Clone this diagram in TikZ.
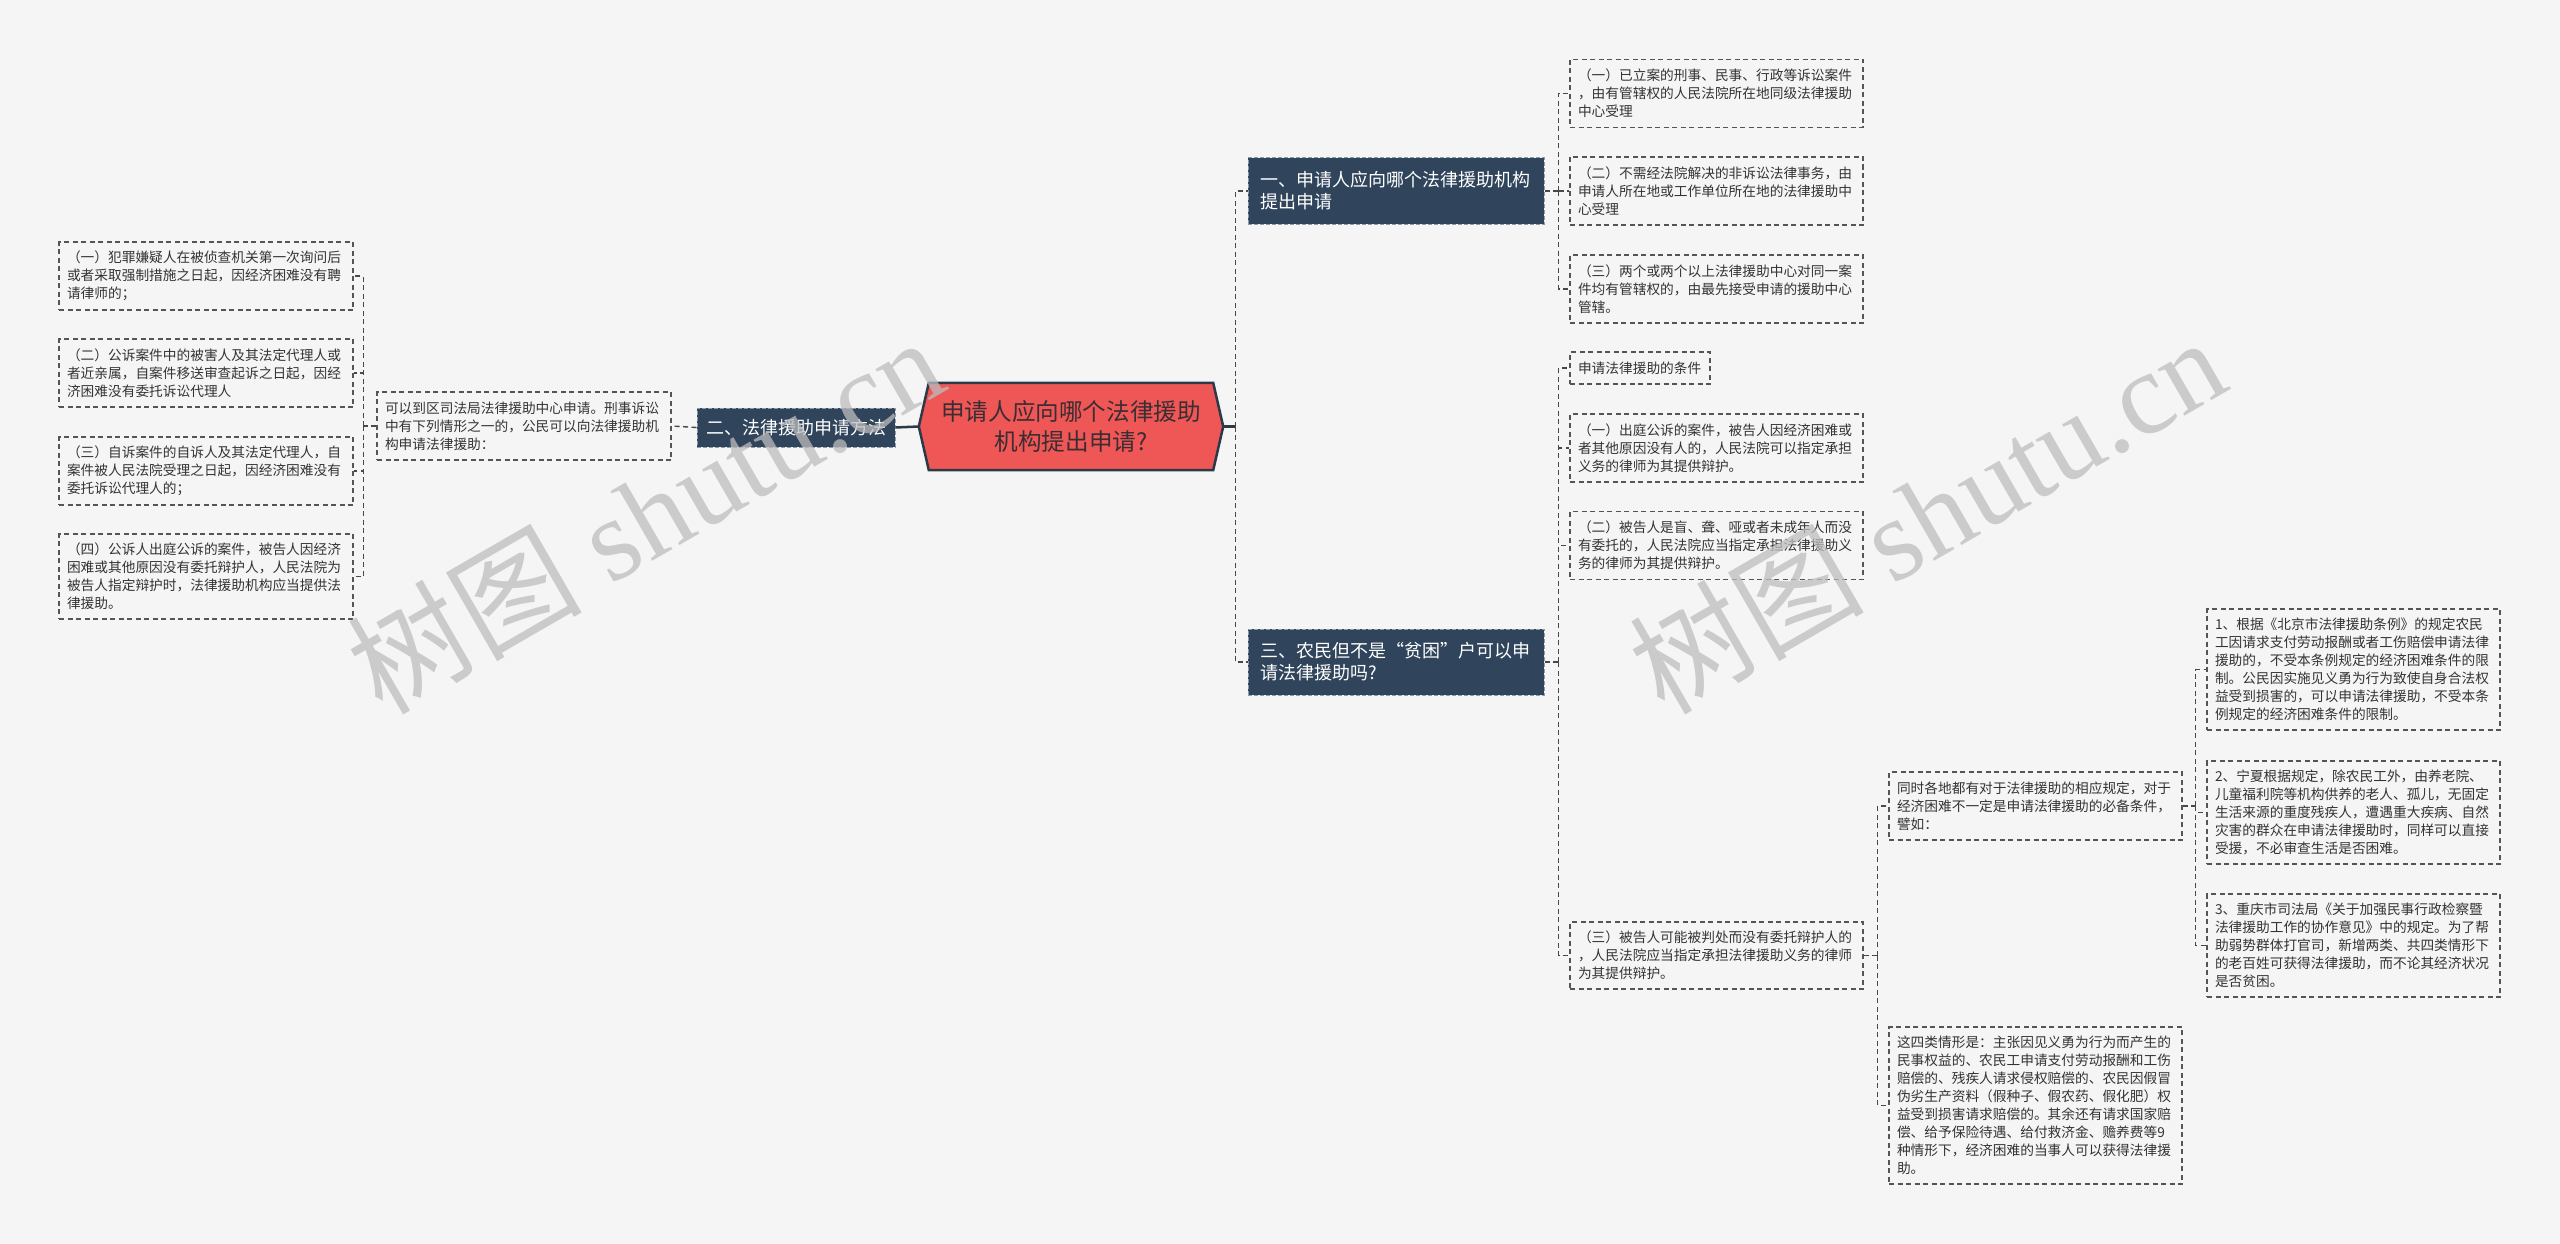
\documentclass[tikz,border=0pt]{standalone}
\usepackage{fontspec}
\setmainfont{Noto Sans CJK SC}
\newfontfamily\cjkfont{Noto Sans CJK SC}
\newfontfamily\wmfont{Liberation Serif}
\usetikzlibrary{backgrounds}
\definecolor{bg}{HTML}{F5F5F5}
\definecolor{navy}{HTML}{30455C}
\definecolor{navyline}{HTML}{8C9BAB}
\definecolor{redfill}{HTML}{EF5656}
\definecolor{darkline}{HTML}{2C3A48}
\definecolor{boxline}{HTML}{555555}
\definecolor{connline}{HTML}{484848}
\definecolor{txt}{HTML}{333333}
\definecolor{ctrtxt}{HTML}{3A2E33}
\definecolor{wm}{HTML}{BDBDBD}
\begin{document}
\begin{tikzpicture}[x=1pt,y=-1pt,
  leaf/.style={draw=boxline, dash pattern=on 5pt off 3.5pt, line width=1.3pt,
    text=txt, align=left, inner xsep=8pt, inner ysep=0pt,
    font=\fontsize{13.7}{18}\selectfont, text width=277pt, minimum height=#1},
  leaf/.default=68pt,
  lvone/.style={fill=navy, draw=navyline, dash pattern=on 4pt off 2pt, line width=1pt,
    text=white, align=left, inner xsep=12pt, inner ysep=0pt,
    font=\fontsize{18}{22}\selectfont, text width=272pt, minimum height=66pt},
  ctrbox/.style={align=center, inner sep=0pt, minimum width=304pt, minimum height=87pt,
    text=ctrtxt, font=\fontsize{23.6}{30.7}\selectfont},
  conn/.style={draw=connline, line width=1.4pt, dash pattern=on 5pt off 3.5pt},
  solidc/.style={draw=darkline, line width=2.5pt},
  wmark/.style={rotate=30, text=wm, opacity=0.75, inner sep=0pt,
    font=\wmfont\fontsize{117}{117}\selectfont}
]
\useasboundingbox (0,0) rectangle (2560,1244);

% centre
\node[ctrbox] (ctr) at (1071,426.5) {申请人应向哪个法律援助\\机构提出申请?};
\begin{scope}[on background layer]
\fill[bg] (0,0) rectangle (2560,1244);
\draw[fill=redfill, draw=darkline, line width=2.5pt, line join=miter]
  (ctr.west) -- ([xshift=10pt]ctr.north west) -- ([xshift=-10pt]ctr.north east)
  -- (ctr.east) -- ([xshift=-10pt]ctr.south east) -- ([xshift=10pt]ctr.south west) -- cycle;
\end{scope}

% left branch
\node[lvone, text width=180pt, inner xsep=9pt, minimum height=39pt] (er) at (796,427.5) {二、法律援助申请方法};
\node[leaf, text width=278pt] (T) at (524,426) {可以到区司法局法律援助中心申请。刑事诉讼\\中有下列情形之一的，公民可以向法律援助机\\构申请法律援助：};
\node[leaf, text width=278pt] (L1) at (206,276) {（一）犯罪嫌疑人在被侦查机关第一次询问后\\或者采取强制措施之日起，因经济困难没有聘\\请律师的；};
\node[leaf, text width=278pt] (L2) at (206,373) {（二）公诉案件中的被害人及其法定代理人或\\者近亲属，自案件移送审查起诉之日起，因经\\济困难没有委托诉讼代理人};
\node[leaf, text width=278pt] (L3) at (206,471) {（三）自诉案件的自诉人及其法定代理人，自\\案件被人民法院受理之日起，因经济困难没有\\委托诉讼代理人的；};
\node[leaf=85pt, text width=278pt] (L4) at (206,576.5) {（四）公诉人出庭公诉的案件，被告人因经济\\困难或其他原因没有委托辩护人，人民法院为\\被告人指定辩护时，法律援助机构应当提供法\\律援助。};

% right level one
\node[lvone] (one) at (1396,191) {一、申请人应向哪个法律援助机构\\提出申请};
\node[lvone] (three) at (1396,662) {三、农民但不是“贫困”户可以申\\请法律援助吗?};

% children of one
\node[leaf] (c1) at (1716.5,93.5) {（一）已立案的刑事、民事、行政等诉讼案件\\，由有管辖权的人民法院所在地同级法律援助\\中心受理};
\node[leaf] (c2) at (1716.5,191) {（二）不需经法院解决的非诉讼法律事务，由\\申请人所在地或工作单位所在地的法律援助中\\心受理};
\node[leaf] (c3) at (1716.5,289) {（三）两个或两个以上法律援助中心对同一案\\件均有管辖权的，由最先接受申请的援助中心\\管辖。};

% children of three
\node[leaf=32pt, text width=124pt] (k) at (1640,368) {申请法律援助的条件};
\node[leaf] (s1) at (1716.5,448) {（一）出庭公诉的案件，被告人因经济困难或\\者其他原因没有人的，人民法院可以指定承担\\义务的律师为其提供辩护。};
\node[leaf] (s2) at (1716.5,545.5) {（二）被告人是盲、聋、哑或者未成年人而没\\有委托的，人民法院应当指定承担法律援助义\\务的律师为其提供辩护。};
\node[leaf=67pt] (s3) at (1716.5,955.5) {（三）被告人可能被判处而没有委托辩护人的\\，人民法院应当指定承担法律援助义务的律师\\为其提供辩护。};

% children of s3
\node[leaf] (tong) at (2035.5,806) {同时各地都有对于法律援助的相应规定，对于\\经济困难不一定是申请法律援助的必备条件，\\譬如：};
\node[leaf=157pt] (zhe) at (2035.5,1105.5) {这四类情形是：主张因见义勇为行为而产生的\\民事权益的、农民工申请支付劳动报酬和工伤\\赔偿的、残疾人请求侵权赔偿的、农民因假冒\\伪劣生产资料（假种子、假农药、假化肥）权\\益受到损害请求赔偿的。其余还有请求国家赔\\偿、给予保险待遇、给付救济金、赡养费等9\\种情形下，经济困难的当事人可以获得法律援\\助。};

% children of tong
\node[leaf=121pt] (n1) at (2353.5,669.5) {1、根据《北京市法律援助条例》的规定农民\\工因请求支付劳动报酬或者工伤赔偿申请法律\\援助的，不受本条例规定的经济困难条件的限\\制。公民因实施见义勇为行为致使自身合法权\\益受到损害的，可以申请法律援助，不受本条\\例规定的经济困难条件的限制。};
\node[leaf=103pt] (n2) at (2353.5,812.5) {2、宁夏根据规定，除农民工外，由养老院、\\儿童福利院等机构供养的老人、孤儿，无固定\\生活来源的重度残疾人，遭遇重大疾病、自然\\灾害的群众在申请法律援助时，同样可以直接\\受援，不必审查生活是否困难。};
\node[leaf=103pt] (n3) at (2353.5,945.5) {3、重庆市司法局《关于加强民事行政检察暨\\法律援助工作的协作意见》中的规定。为了帮\\助弱势群体打官司，新增两类、共四类情形下\\的老百姓可获得法律援助，而不论其经济状况\\是否贫困。};

% connectors
\draw[solidc] (ctr.west) -- (er.east);
\draw[conn] (er.west) -- (T.east);
\draw[conn] (T.west) -- ++(-13,0) coordinate (jL);
\foreach \n in {L1,L2,L3,L4} \draw[conn] (jL) |- (\n.east);

\draw[solidc] (ctr.east) -- ++(12,0) coordinate (jC);
\draw[conn] (jC) |- (one.west);
\draw[conn] (jC) |- (three.west);

\draw[conn] (one.east) -- ++(14,0) coordinate (j1);
\foreach \n in {c1,c2,c3} \draw[conn] (j1) |- (\n.west);

\draw[conn] (three.east) -- ++(14,0) coordinate (j3);
\foreach \n in {k,s1,s2,s3} \draw[conn] (j3) |- (\n.west);

\draw[conn] (s3.east) -- ++(14,0) coordinate (j4);
\foreach \n in {tong,zhe} \draw[conn] (j4) |- (\n.west);

\draw[conn] (tong.east) -- ++(13,0) coordinate (j5);
\foreach \n in {n1,n2,n3} \draw[conn] (j5) |- (\n.west);

% watermarks
\node[wmark] (wm1) at (645,514) {{\cjkfont 树图} shutu.cn};
\node[wmark] (wm2) at (1927,514) {{\cjkfont 树图} shutu.cn};
\end{tikzpicture}
\end{document}
